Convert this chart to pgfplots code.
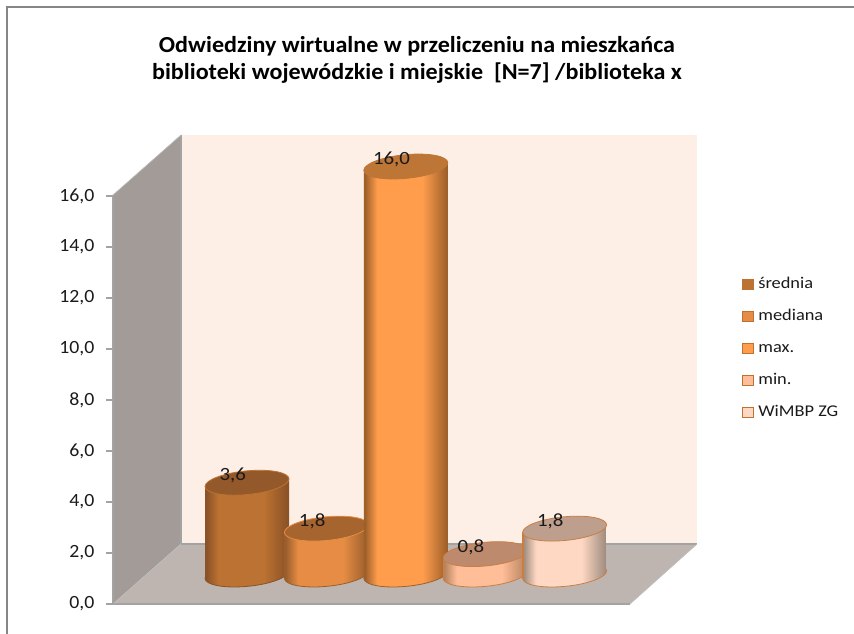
\documentclass[border=0pt]{standalone}
\usepackage{fontspec}
\setmainfont{Carlito}[FakeStretch=1.12]
\newfontfamily\titlefont{Carlito}[FakeStretch=1.05]
\newfontfamily\tickfont{Carlito}[FakeStretch=1.06]
\usepackage{pgfplots}
\pgfplotsset{compat=1.18}
\definecolor{backw}{HTML}{FDEEE6}
\definecolor{sidew}{HTML}{A39B97}
\definecolor{floorw}{HTML}{BEB5B1}
\definecolor{linec}{HTML}{A3A3A3}
\definecolor{framec}{HTML}{868686}
\definecolor{inkc}{HTML}{1A1A1A}
\definecolor{edgeA}{HTML}{8A5226}\definecolor{bodyA}{HTML}{BC7232}\definecolor{capA}{HTML}{94592A}
\definecolor{edgeB}{HTML}{9A5E2C}\definecolor{bodyB}{HTML}{E68C44}\definecolor{capB}{HTML}{A6642F}
\definecolor{edgeC}{HTML}{9E6029}\definecolor{bodyC}{HTML}{FF9D4D}\definecolor{capC}{HTML}{BD7636}
\definecolor{edgeD}{HTML}{B5835F}\definecolor{bodyD}{HTML}{FFBD98}\definecolor{capD}{HTML}{BE8A6E}
\definecolor{edgeE}{HTML}{A08D80}\definecolor{bodyE}{HTML}{FFD8C3}\definecolor{capE}{HTML}{BE9E8C}
\definecolor{rimc}{HTML}{C87F45}

% 1 px = 0.75 pt; ellipse of a cylinder end
\newcommand{\defcyl}[4]{%
  \pgfdeclarehorizontalshading{cyl#1}{100bp}{color(0bp)=(#4); color(25bp)=(#4); color(25.7bp)=(#2); color(33bp)=(#3); color(60bp)=(#3); color(74.3bp)=(#2); color(75bp)=(#4); color(100bp)=(#4)}%
  \pgfdeclareplotmark{base#1}{\path[shade,shading=cyl#1,draw=#4,line width=.6pt] (0,0) ellipse [x radius=31.5pt,y radius=8.9pt];}%
}
\pgfdeclareplotmark{cap}{\pgfpathellipse{\pgfpointorigin}{\pgfqpoint{31.5pt}{0pt}}{\pgfqpoint{0pt}{8.9pt}}\pgfusepathqfillstroke}
\defcyl{A}{edgeA}{bodyA}{edgeA}
\defcyl{B}{edgeB}{bodyB}{edgeB}
\defcyl{C}{edgeC}{bodyC}{edgeC}
\defcyl{D}{edgeD}{bodyD}{rimc}
\defcyl{E}{edgeE}{bodyE}{rimc}

% #1 position, #2 value, #3 letter, #4 outline of the cap
\newcommand{\cyl}[4]{%
  \addplot[forget plot, only marks, mark=base#3, yshift={22.1pt-5.36pt*#1}, yslant=0.09] coordinates {(#1,0)};
  \addplot[forget plot, ybar, bar width=1.058, bar shift=0pt, draw=none, shade, shading=cyl#3, yshift={22.1pt-5.36pt*#1}, yslant=0.09] coordinates {(#1,#2)};
  \addplot[forget plot, only marks, mark=cap, mark options={fill=cap#3, draw=#4, line width=.6pt}, yshift={22.1pt-5.36pt*#1}, yslant=0.09,
    nodes near coords, nodes near coords style={anchor=center, xshift=-10.7pt, yshift=5.2pt, font=\fontsize{14}{14}\selectfont, text=inkc, /pgf/number format/.cd, fixed, fixed zerofill, precision=1, use comma, assume math mode=true}] coordinates {(#1,#2)};
}

\begin{document}
\begin{tikzpicture}
\path[use as bounding box] (0,0) rectangle (640.5pt,475.5pt);
\begin{scope}[x=.75pt,y=-.75pt,yshift=475.5pt]
  \draw[framec,line width=.9pt] (7,634) -- (7,7) -- (854,7);
  \fill[backw] (181,135) rectangle (697,544);
  \fill[sidew] (113,195) -- (181,135) -- (181,544) -- (113,604) -- cycle;
  \fill[floorw] (113,604) -- (181,544) -- (697,544) -- (630,604) -- cycle;
  \draw[linec,line width=.8pt] (181,135) -- (181,544) -- (697,544);
  \draw[linec!70,line width=.5pt] (113,195) -- (181,135) (113,604) -- (181,544) (630,604) -- (697,544);
  \node[font=\titlefont\bfseries\fontsize{17.2}{20.25}\selectfont, text=black, align=center] at (417,60) {Odwiedziny wirtualne w przeliczeniu na mieszkańca\\biblioteki wojewódzkie i miejskie~~[N=7] /biblioteka x};
\end{scope}
\begin{axis}[
  at={(84.75pt,22.5pt)}, anchor=south west,
  disabledatascaling, x=59.55pt, y=19.125pt,
  xmin=-0.6877, xmax=5.825, ymin=0, ymax=16,
  clip=false, clip mode=individual,
  axis x line*=bottom, axis y line*=left,
  axis line style={linec, line width=1.1pt, -},
  xtick=\empty,
  ytick={0,2,4,6,8,10,12,14,16},
  tick align=outside, major tick length=5pt,
  tick style={linec, line width=.9pt},
  yticklabel style={font=\tickfont\fontsize{14}{14}\selectfont, text=inkc, xshift=-5.5pt, /pgf/number format/.cd, fixed, fixed zerofill, precision=1, use comma, assume math mode=true},
  legend style={at={(1.215,0.625)}, anchor=west, draw=none, fill=none, font=\fontsize{12.3}{12.3}\selectfont, text=inkc, row sep=8pt, inner sep=0pt, nodes={text height=9pt, text depth=3pt}},
  legend cell align=left,
  legend image code/.code={\draw[#1, line width=.8pt] (0pt,-3.6pt) rectangle (8.4pt,4.2pt); \path (10pt,0pt);},
  legend entries={średnia,mediana,max.,min.,WiMBP ZG},
]
\addlegendimage{fill=bodyA, draw=bodyA}
\addlegendimage{fill=bodyB, draw=bodyA}
\addlegendimage{fill=bodyC, draw=bodyA}
\addlegendimage{fill=bodyD, draw=bodyA}
\addlegendimage{fill=bodyE, draw=bodyA}
\cyl{1}{3.6}{A}{bodyA}
\cyl{2}{1.8}{B}{bodyB}
\cyl{3}{16.0}{C}{capC}
\cyl{4}{0.8}{D}{rimc}
\cyl{5}{1.8}{E}{rimc}
\end{axis}
\end{tikzpicture}
\end{document}
